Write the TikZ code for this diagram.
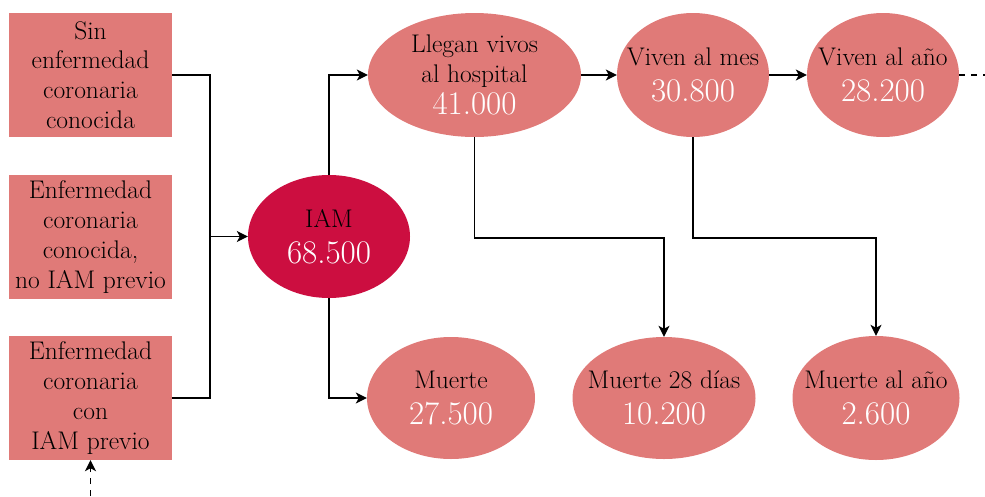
\documentclass[tikz,border=0pt]{standalone}
\usetikzlibrary{shapes.geometric,arrows.meta}
\definecolor{pinkfill}{RGB}{224,122,120}
\definecolor{iamred}{RGB}{204,14,64}
\newcommand{\numtxt}[1]{{\fontsize{33}{36}\selectfont\color{white}#1}}
\begin{document}
\begin{tikzpicture}[x=1pt,y=-1pt,
  every node/.style={font=\fontsize{25.5}{29.7}\selectfont, align=center},
  boxnode/.style={rectangle, fill=pinkfill, minimum width=163pt, minimum height=124pt, inner sep=0pt},
  ellnode/.style={ellipse, fill=pinkfill, inner xsep=-35pt, inner ysep=-14pt},
  conn/.style={line width=1.2pt, black},
  arr/.style={conn, -{Stealth[length=11pt,width=11pt,inset=3pt]}}
]
\useasboundingbox (0,0) rectangle (985,496);
% left boxes
\node[boxnode] (b1) at (90.5,75) {Sin\\enfermedad\\coronaria\\conocida};
\node[boxnode] (b2) at (90.5,237) {Enfermedad\\coronaria\\conocida,\\no IAM previo};
\node[boxnode] (b3) at (90.5,398) {Enfermedad\\coronaria\\con\\IAM previo};
% ellipses
\node[ellnode, fill=iamred, minimum width=162pt, minimum height=123pt] (iam) at (329,236.5) {IAM\\[6pt]\numtxt{68.500}};
\node[ellnode, minimum width=213pt, minimum height=124pt] (lleg) at (474.5,75) {Llegan vivos\\al hospital\\[3pt]\numtxt{41.000}};
\node[ellnode, minimum width=152pt, minimum height=124pt] (mes) at (693,75) {Viven al mes\\[7pt]\numtxt{30.800}};
\node[ellnode, minimum width=152pt, minimum height=124pt] (ano) at (883,75) {Viven al a\~no\\[7pt]\numtxt{28.200}};
\node[ellnode, minimum width=168pt, minimum height=122pt] (mu) at (451,398) {Muerte\\[7pt]\numtxt{27.500}};
\node[ellnode, minimum width=183pt, minimum height=122pt] (m28) at (664,398) {Muerte 28 d\'{\i}as\\[7pt]\numtxt{10.200}};
\node[ellnode, minimum width=167pt, minimum height=124pt] (mano) at (876,398) {Muerte al a\~no\\[7pt]\numtxt{2.600}};
% helper coordinates
\coordinate (jx) at (210,236.5);
\coordinate (hl) at (0,238);
\coordinate (d0) at (90.5,496);
\coordinate (d1) at (985,75);
% connectors
\draw[conn] (b1.east) -| (jx) |- (b3.east);
\draw[arr] (jx) -- (iam.west);
\draw[arr] (iam.north) |- (lleg.west);
\draw[arr] (iam.south) |- (mu.west);
\draw[arr] (lleg.east) -- (mes.west);
\draw[arr] (mes.east) -- (ano.west);
\draw[arr] (lleg.south) -- (lleg.south |- hl) -| (m28.north);
\draw[arr] (mes.south) -- (mes.south |- hl) -| (mano.north);
\draw[conn, dash pattern=on 6pt off 6pt] (ano.east) -- (d1);
\draw[arr, dash pattern=on 6pt off 6pt] (d0) -- (b3.south);
\end{tikzpicture}
\end{document}
